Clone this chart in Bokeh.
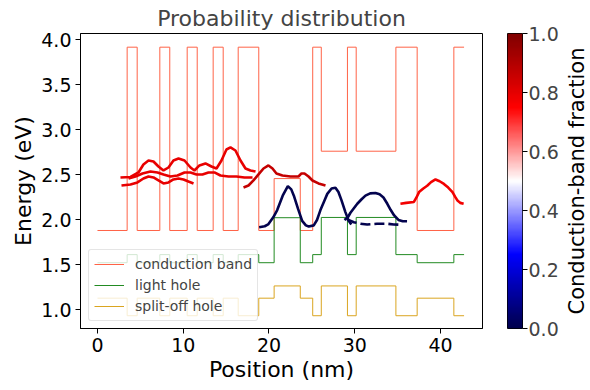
import numpy as np
from bokeh.plotting import figure
from bokeh.models import Range1d, FixedTicker, LinearAxis, LinearColorMapper, PrintfTickFormatter
from bokeh.layouts import row
from bokeh.embed import file_html
from bokeh.resources import INLINE

# ---------------- data ----------------
layer_bounds = [0, 3.46, 4.63, 7.27, 8.43, 10.46, 11.63, 13.49, 14.66, 16.41, 18.81,
                20.6, 23.65, 25.1, 26.1, 29.15, 30.17, 34.8, 37.28, 41.56, 42.75]
cb_levels = [1.883, 3.92, 1.883, 3.92, 1.883, 3.92, 1.883, 3.92, 1.883, 3.92, 1.883,
             2.46, 1.883, 3.92, 2.764, 3.92, 2.764, 3.92, 1.883, 3.92]
lh_levels = [1.525, 1.615, 1.525, 1.615, 1.525, 1.615, 1.525, 1.615, 1.525, 1.615, 1.525,
             2.025, 1.525, 1.615, 2.028, 1.615, 2.028, 1.615, 1.525, 1.615]
so_levels = [1.131, 0.936, 1.131, 0.936, 1.131, 0.936, 1.131, 0.936, 1.131, 0.936, 1.131,
             1.267, 1.131, 0.936, 1.267, 0.936, 1.267, 0.936, 1.131, 0.936]

# wavefunction traces (position nm, energy eV)
state_a_x = [2.68, 3.85, 4.78, 5.36, 5.95, 6.53, 7.11, 7.70, 8.28, 8.86, 9.45, 10.15, 10.85,
             11.31, 11.89, 12.59, 13.29, 13.88, 14.46, 15.04, 15.51, 16.09, 16.68, 17.26, 17.84, 18.43]
state_a_e = [2.472, 2.478, 2.528, 2.617, 2.661, 2.650, 2.594, 2.550, 2.583, 2.661, 2.683, 2.661, 2.583,
             2.550, 2.606, 2.628, 2.594, 2.572, 2.661, 2.783, 2.806, 2.772, 2.661, 2.572, 2.550, 2.539]
state_b_x = [3.62, 4.43, 5.25, 6.18, 7.00, 7.70, 8.51, 9.33, 10.15, 10.85, 11.55, 12.24, 12.94,
             13.64, 14.34, 15.28, 16.21, 17.14, 18.08]
state_b_e = [2.461, 2.483, 2.517, 2.539, 2.528, 2.506, 2.483, 2.494, 2.528, 2.528, 2.506, 2.506, 2.528,
             2.528, 2.494, 2.483, 2.483, 2.472, 2.472]
state_c_x = [2.80, 3.85, 4.66, 5.36, 5.95, 6.53, 7.11, 7.70, 8.28, 8.86, 9.45, 10.03, 10.61, 11.20]
state_c_e = [2.383, 2.394, 2.417, 2.461, 2.483, 2.472, 2.439, 2.406, 2.417, 2.450, 2.461, 2.450, 2.428, 2.406]
state_d_x = [17.03, 17.61, 18.19, 18.78, 19.36, 19.94, 20.41, 20.87, 21.57, 22.51, 23.44, 23.79,
             24.14, 24.61, 25.07, 25.77, 26.59]
state_d_e = [2.361, 2.383, 2.439, 2.506, 2.572, 2.606, 2.572, 2.517, 2.494, 2.483, 2.483, 2.517,
             2.517, 2.483, 2.439, 2.406, 2.383]
state_e_x = [35.33, 36.0, 36.9, 37.2, 37.5, 38.0, 38.45, 38.9, 39.42, 39.9, 40.4, 40.9, 41.4,
             41.7, 41.95, 42.3, 42.7]
state_e_e = [2.18, 2.19, 2.20, 2.25, 2.31, 2.35, 2.38, 2.42, 2.45, 2.43, 2.40, 2.36, 2.31,
             2.26, 2.22, 2.19, 2.18]
state_f_x = [18.85, 19.5, 19.9, 20.5, 20.96, 21.6, 22.2, 22.6, 22.9, 23.4, 23.87, 24.3, 24.64,
             25.22, 25.6, 26.0, 26.4, 26.8, 27.3, 27.75, 28.1, 28.45, 28.9, 29.3, 29.6]
state_f_e = [1.92, 1.93, 1.95, 2.03, 2.11, 2.27, 2.376, 2.34, 2.27, 2.12, 1.99, 1.94, 1.928,
             1.94, 2.0, 2.11, 2.2, 2.29, 2.35, 2.358, 2.31, 2.22, 2.09, 1.99, 1.95]
state_g_x = [28.8, 29.2, 29.5, 29.9, 30.3, 30.8, 31.25, 31.8, 32.42, 32.9, 33.35, 33.8, 34.2,
             34.6, 35.1, 35.6, 36.1]
state_g_e = [2.0, 2.03, 2.08, 2.13, 2.18, 2.23, 2.27, 2.295, 2.30, 2.285, 2.25, 2.18, 2.11,
             2.05, 2.0, 1.985, 1.985]
state_h_x = [29.12, 29.9, 30.67, 31.45, 32.6, 33.8, 34.55, 35.3]
state_h_e = [2.006, 1.975, 1.958, 1.95, 1.958, 1.958, 1.95, 1.947]

x_ticks = [0, 10, 20, 30, 40]
y_ticks = [1.0, 1.5, 2.0, 2.5, 3.0, 3.5, 4.0]
cbar_ticks = [0.0, 0.2, 0.4, 0.6, 0.8, 1.0]

# seismic colormap
def seismic_palette(n=256):
    stops = [(0.0, (0, 0, 0.3)), (0.25, (0, 0, 1)), (0.5, (1, 1, 1)),
             (0.75, (1, 0, 0)), (1.0, (0.5, 0, 0))]
    out = []
    for i in range(n):
        t = i / (n - 1)
        for (t0, c0), (t1, c1) in zip(stops[:-1], stops[1:]):
            if t0 <= t <= t1:
                f = (t - t0) / (t1 - t0)
                c = [c0[k] + f * (c1[k] - c0[k]) for k in range(3)]
                break
        out.append("#%02x%02x%02x" % tuple(int(round(v * 255)) for v in c))
    return out

FONT = "DejaVu Sans"
TICK_FS = "19px"
LABEL_FS = "22px"

p = figure(frame_width=402, frame_height=295,
           x_range=Range1d(-1.98, 44.9), y_range=Range1d(0.794, 4.072),
           output_backend="svg", toolbar_location=None,
           min_border_left=80, min_border_right=16, min_border_top=33, min_border_bottom=57,
           title="Probability distribution")
p.title.text_font = FONT
p.title.text_font_size = LABEL_FS
p.title.text_font_style = "normal"
p.title.align = "center"
p.title.standoff = 5
p.grid.visible = False
p.outline_line_color = "black"
p.outline_line_width = 1
p.outline_line_alpha = 1

for ax in (p.xaxis[0], p.yaxis[0]):
    ax.major_label_text_font = FONT
    ax.major_label_text_font_size = TICK_FS
    ax.axis_label_text_font = FONT
    ax.axis_label_text_font_size = LABEL_FS
    ax.axis_label_text_font_style = "normal"
    ax.minor_tick_line_color = None
    ax.major_tick_out = 5
    ax.major_tick_in = 0
    ax.major_label_standoff = 4
    ax.axis_line_color = "black"
    ax.major_label_text_color = "black"
    ax.axis_label_text_color = "black"
p.xaxis.ticker = FixedTicker(ticks=x_ticks)
p.yaxis.ticker = FixedTicker(ticks=y_ticks)
p.yaxis.formatter = PrintfTickFormatter(format="%.1f")
p.xaxis.axis_label = "Position (nm)"
p.yaxis.axis_label = "Energy (eV)"
p.xaxis.axis_label_standoff = 2
p.yaxis.axis_label_standoff = 2

p.step(layer_bounds, cb_levels + [cb_levels[-1]], mode="after", line_color="#ff6347",
       line_width=1, legend_label="conduction band")
p.step(layer_bounds, lh_levels + [lh_levels[-1]], mode="after", line_color="#228b22",
       line_width=1, legend_label="light hole")
p.step(layer_bounds, so_levels + [so_levels[-1]], mode="after", line_color="#daa520",
       line_width=1, legend_label="split-off hole")

lw = 2.6
p.line(state_a_x, state_a_e, line_color="#e80000", line_width=lw)
p.line(state_b_x, state_b_e, line_color="#e80000", line_width=lw)
p.line(state_c_x, state_c_e, line_color="#e80000", line_width=lw)
p.line(state_d_x, state_d_e, line_color="#c40000", line_width=lw)
p.line(state_e_x, state_e_e, line_color="#f20000", line_width=lw)
p.line(state_f_x, state_f_e, line_color="#03034e", line_width=lw)
p.line(state_g_x, state_g_e, line_color="#03034e", line_width=lw)
p.line(state_h_x, state_h_e, line_color="#03034e", line_width=lw, line_dash="10 4")

leg = p.legend[0]
leg.location = (8, 7)
leg.margin = 0
leg.padding = 5
leg.spacing = 3
leg.glyph_width = 30
leg.glyph_height = 18
leg.label_standoff = 11
leg.label_text_font = FONT
leg.label_text_font_size = "14px"
leg.background_fill_alpha = 0.8
leg.border_line_color = "#cccccc"
leg.border_line_width = 1
leg.border_radius = 3

# colorbar as its own small figure
mapper = LinearColorMapper(palette=seismic_palette(), low=0, high=1)
c = figure(frame_width=15, frame_height=295, x_range=Range1d(0, 1), y_range=Range1d(0, 1),
           output_backend="svg", toolbar_location=None,
           min_border_left=9, min_border_right=0, min_border_top=33, min_border_bottom=57,
           x_axis_location=None, y_axis_location=None)
c.grid.visible = False
c.outline_line_color = "black"
grad = np.linspace(0, 1, 256).reshape(256, 1)
c.image(image=[grad], x=0, y=0, dw=1, dh=1, color_mapper=mapper)
cax = LinearAxis(ticker=FixedTicker(ticks=cbar_ticks),
                 formatter=PrintfTickFormatter(format="%.1f"))
cax.major_label_text_font = FONT
cax.major_label_text_font_size = TICK_FS
cax.minor_tick_line_color = None
cax.major_tick_out = 5
cax.major_tick_in = 0
cax.major_label_standoff = 1
cax.axis_line_color = None
c.add_layout(cax, "right")

# colorbar label: a left-side axis label of a tiny companion figure (reads bottom to top)
lab = figure(frame_width=1, frame_height=295, x_range=Range1d(0, 1), y_range=Range1d(0, 1),
             output_backend="svg", toolbar_location=None,
             min_border_left=0, min_border_right=0, min_border_top=33, min_border_bottom=57,
             x_axis_location=None, y_axis_location=None)
lab.grid.visible = False
lab.outline_line_color = None
lax = LinearAxis(ticker=FixedTicker(ticks=[]), axis_label="Conduction-band fraction")
lax.axis_label_text_font = FONT
lax.axis_label_text_font_size = "21px"
lax.axis_label_text_font_style = "normal"
lax.axis_label_text_color = "black"
lax.axis_label_standoff = 0
lax.axis_line_color = None
lax.major_tick_line_color = None
lax.minor_tick_line_color = None
lax.major_label_text_font_size = "0px"
lax.major_tick_out = 0
lax.major_label_standoff = 0
lab.add_layout(lax, "left")

layout = row(p, c, lab)
open("out.html", "w").write(file_html(layout, INLINE))
